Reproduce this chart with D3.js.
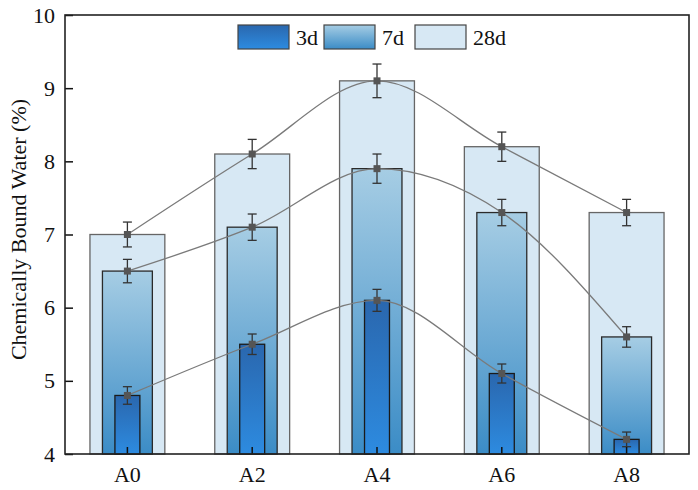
<!DOCTYPE html>
<meta charset="utf-8">
<script src="https://d3js.org/d3.v7.min.js"></script>
<style>
  body { margin: 0; background: #fff; }
  svg text { font-family: "Times New Roman", "Liberation Serif", Tinos, serif; fill: #111; }
</style>
<div id="chart"></div>
<script>

  // data
  var groups = ["A0", "A2", "A4", "A6", "A8"];
  var ages = ["28d", "7d", "3d"];
  var water3d = [4.8, 5.5, 6.1, 5.1, 4.2];
  var water7d = [6.5, 7.1, 7.9, 7.3, 5.6];
  var water28d = [7.0, 8.1, 9.1, 8.2, 7.3];
  var err3d = [0.12, 0.14, 0.15, 0.13, 0.1];
  var err7d = [0.16, 0.18, 0.2, 0.18, 0.14];
  var err28d = [0.17, 0.2, 0.23, 0.2, 0.18];
  var yTicks = [4, 5, 6, 7, 8, 9, 10];

  var series = {
    "3d": { values: water3d, err: err3d, width: 0.2, fill: "url(#g3)", stroke: "#1a1a1a" },
    "7d": { values: water7d, err: err7d, width: 0.4, fill: "url(#g7)", stroke: "#2a2a2a" },
    "28d": { values: water28d, err: err28d, width: 0.6, fill: "#d7e8f4", stroke: "#666" }
  };

  var margin = {top: 15, right: 9, bottom: 36, left: 65},
      width = 698 - margin.left - margin.right,
      height = 490 - margin.top - margin.bottom;

  var svg = d3.select("#chart")
    .append("svg")
      .attr("width", 698)
      .attr("height", 490);

  var defs = svg.append("defs");
  function grad(id, top, bottom) {
    var g = defs.append("linearGradient").attr("id", id)
      .attr("x1", 0).attr("y1", 0).attr("x2", 0).attr("y2", 1);
    g.append("stop").attr("offset", "0%").attr("stop-color", top);
    g.append("stop").attr("offset", "100%").attr("stop-color", bottom);
  }
  grad("g3", "#2a67ae", "#2d8be0");
  grad("g7", "#a6cde4", "#3b8cc6");

  var g = svg.append("g")
    .attr("transform", "translate(" + margin.left + "," + margin.top + ")");

  var x = d3.scaleBand().domain(groups).range([0, width]);
  var y = d3.scaleLinear().domain([4, 10]).range([height, 0]);

  // bars, widest first
  ages.forEach(function(a) {
    var s = series[a];
    var w = x.bandwidth() * s.width;
    g.append("g").selectAll("rect")
      .data(groups)
      .enter()
      .append("rect")
        .attr("x", function(d) { return x(d) + x.bandwidth() / 2 - w / 2; })
        .attr("y", function(d, i) { return y(s.values[i]); })
        .attr("width", w)
        .attr("height", function(d, i) { return height - y(s.values[i]); })
        .attr("fill", s.fill)
        .attr("stroke", s.stroke)
        .attr("stroke-width", 1.3);
  });

  // smooth connecting lines
  var line = d3.line()
    .x(function(d, i) { return x(groups[i]) + x.bandwidth() / 2; })
    .y(function(d) { return y(d); })
    .curve(d3.curveMonotoneX);
  ages.forEach(function(a) {
    g.append("path")
      .datum(series[a].values)
      .attr("d", line)
      .attr("fill", "none")
      .attr("stroke", "#7a7a7a")
      .attr("stroke-width", 1.3);
  });

  // error bars and markers
  ages.forEach(function(a) {
    var s = series[a];
    var eg = g.append("g").selectAll("g")
      .data(groups)
      .enter()
      .append("g")
        .attr("transform", function(d) { return "translate(" + (x(d) + x.bandwidth() / 2) + ",0)"; });
    eg.append("line")
      .attr("y1", function(d, i) { return y(s.values[i] + s.err[i]); })
      .attr("y2", function(d, i) { return y(s.values[i] - s.err[i]); })
      .attr("stroke", "#333").attr("stroke-width", 1.3);
    [1, -1].forEach(function(sg) {
      eg.append("line")
        .attr("x1", -4.5).attr("x2", 4.5)
        .attr("y1", function(d, i) { return y(s.values[i] + sg * s.err[i]); })
        .attr("y2", function(d, i) { return y(s.values[i] + sg * s.err[i]); })
        .attr("stroke", "#333").attr("stroke-width", 1.3);
    });
    eg.append("rect")
      .attr("x", -3.5)
      .attr("y", function(d, i) { return y(s.values[i]) - 3.5; })
      .attr("width", 7).attr("height", 7)
      .attr("fill", "#555");
  });

  // axes, ticks pointing inward
  var yAxis = g.append("g")
    .call(d3.axisLeft(y).tickValues(yTicks).tickSize(-8).tickPadding(10).tickFormat(d3.format("d")));
  var xAxis = g.append("g")
    .attr("transform", "translate(0," + height + ")")
    .call(d3.axisBottom(x).tickSize(-7).tickPadding(12));
  [yAxis, xAxis].forEach(function(ax) {
    ax.attr("font-family", null).attr("font-size", null);
    ax.select(".domain").remove();
    ax.selectAll(".tick line").attr("stroke", "#111").attr("stroke-width", 1.5);
    ax.selectAll(".tick text").style("font-size", "22px").attr("fill", "#111");
  });

  // frame
  g.append("rect")
    .attr("width", width).attr("height", height)
    .attr("fill", "none").attr("stroke", "#222").attr("stroke-width", 1.6);

  // y label
  svg.append("text")
    .attr("transform", "translate(26," + (margin.top + height / 2 - 5) + ") rotate(-90)")
    .attr("text-anchor", "middle")
    .style("font-size", "22px")
    .text("Chemically Bound Water (%)");

  // legend
  var legendItems = ["3d", "7d", "28d"];
  var legendX = [238, 324, 415];
  var lg = svg.append("g");
  legendItems.forEach(function(a, i) {
    lg.append("rect")
      .attr("x", legendX[i]).attr("y", 25)
      .attr("width", 51).attr("height", 24)
      .attr("fill", a == "3d" ? "url(#g3)" : series[a].fill)
      .attr("stroke", "#444").attr("stroke-width", 1.2);
    lg.append("text")
      .attr("x", legendX[i] + 58).attr("y", 45)
      .style("font-size", "22px")
      .text(a);
  });

</script>
